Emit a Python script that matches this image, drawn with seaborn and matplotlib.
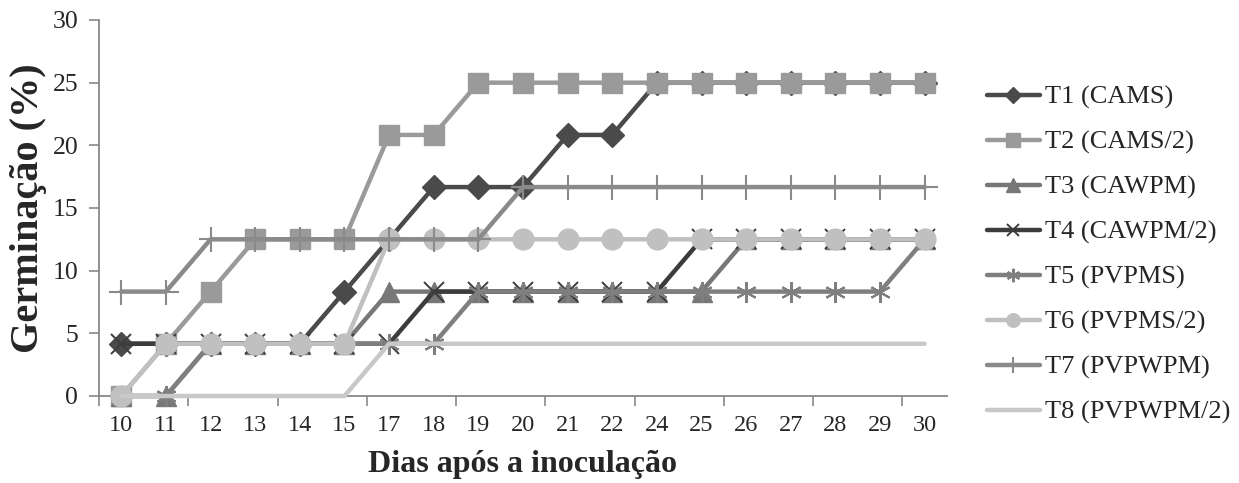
import pandas as pd
import matplotlib
matplotlib.use('Agg')
import matplotlib.pyplot as plt
import seaborn as sns

# Days after inoculation (category axis) and germination (%) per treatment
dias = ['10', '11', '12', '13', '14', '15', '17', '18', '19', '20',
        '21', '22', '24', '25', '26', '27', '28', '29', '30']

t1 = [4.17, 4.17, 4.17, 4.17, 4.17, 8.33, 12.5, 16.67, 16.67, 16.67,
      20.83, 20.83, 25, 25, 25, 25, 25, 25, 25]
t2 = [0, 4.17, 8.33, 12.5, 12.5, 12.5, 20.83, 20.83, 25, 25,
      25, 25, 25, 25, 25, 25, 25, 25, 25]
t3 = [0, 0, 4.17, 4.17, 4.17, 4.17, 8.33, 8.33, 8.33, 8.33,
      8.33, 8.33, 8.33, 8.33, 12.5, 12.5, 12.5, 12.5, 12.5]
t4 = [4.17, 4.17, 4.17, 4.17, 4.17, 4.17, 4.17, 8.33, 8.33, 8.33,
      8.33, 8.33, 8.33, 12.5, 12.5, 12.5, 12.5, 12.5, 12.5]
t5 = [0, 0, 4.17, 4.17, 4.17, 4.17, 4.17, 4.17, 8.33, 8.33,
      8.33, 8.33, 8.33, 8.33, 8.33, 8.33, 8.33, 8.33, 12.5]
t6 = [0, 4.17, 4.17, 4.17, 4.17, 4.17, 12.5, 12.5, 12.5, 12.5,
      12.5, 12.5, 12.5, 12.5, 12.5, 12.5, 12.5, 12.5, 12.5]
t7 = [8.33, 8.33, 12.5, 12.5, 12.5, 12.5, 12.5, 12.5, 12.5, 16.67,
      16.67, 16.67, 16.67, 16.67, 16.67, 16.67, 16.67, 16.67, 16.67]
t8 = [0, 0, 0, 0, 0, 0, 4.17, 4.17, 4.17, 4.17,
      4.17, 4.17, 4.17, 4.17, 4.17, 4.17, 4.17, 4.17, 4.17]

nomes = ['T1 (CAMS)', 'T2 (CAMS/2)', 'T3 (CAWPM)', 'T4 (CAWPM/2)',
         'T5 (PVPMS)', 'T6 (PVPMS/2)', 'T7 (PVPWPM)', 'T8 (PVPWPM/2)']
series = [t1, t2, t3, t4, t5, t6, t7, t8]

# style per series: colour, marker, marker size, edge width
estilos = [
    ('#4a4a4a', 'D', 12, 1),
    ('#9a9a9a', 's', 15, 1),
    ('#777777', '^', 15, 1),
    ('#3c3c3c', 'x', 14, 1.4),
    ('#7f7f7f', (6, 2, 0), 15, 1.5),
    ('#c0c0c0', 'o', 15, 1),
    ('#8a8a8a', '+', 18, 1.5),
    ('#c8c8c8', None, 0, 1),
]

sns.set_style('white')
plt.rcParams['font.family'] = ['Liberation Serif', 'DejaVu Serif']

fig = plt.figure(figsize=(12.39, 4.83), dpi=100)
ax = fig.add_axes([99 / 1239, 1 - 396 / 483, 848 / 1239, 376 / 483])

pos = list(range(len(dias)))
for i, (nome, vals) in enumerate(zip(nomes, series)):
    cor, mk, ms, mew = estilos[i]
    df = pd.DataFrame({'x': pos, 'y': vals})
    sns.lineplot(data=df, x='x', y='y', ax=ax, color=cor, linewidth=3.2,
                 marker=mk, markersize=ms, markeredgecolor=cor,
                 markeredgewidth=mew, label=nome, clip_on=False,
                 zorder=3 + i)

eixo = '#888888'
ax.set_xlim(-0.5, len(dias) - 0.5)
ax.set_ylim(0, 30)
ax.set_yticks(range(0, 31, 5))
ax.set_xticks(pos)
ax.set_xticklabels(dias)
ax.set_xticks([p - 0.5 for p in range(0, len(dias), 2)], minor=True)
ax.tick_params(axis='x', which='major', length=0, pad=14, labelsize=17.5)
ax.tick_params(axis='x', which='minor', length=7, width=1.2, color=eixo,
               direction='out', bottom=True)
ax.tick_params(axis='y', which='major', length=7, width=1.2, color=eixo,
               direction='out', left=True, labelsize=18.5, pad=8)
for s in ['top', 'right']:
    ax.spines[s].set_visible(False)
for s in ['left', 'bottom']:
    ax.spines[s].set_color(eixo)
    ax.spines[s].set_linewidth(1.3)

ax.set_xlabel('Dias após a inoculação', fontsize=23, fontweight='bold',
              labelpad=10)
ax.set_ylabel('Germinação (%)', fontsize=29, fontweight='bold', labelpad=4)

handles, labels = ax.get_legend_handles_labels()
ax.legend_.remove()
fig.legend(handles, labels, loc='center left',
           bbox_to_anchor=(987 / 1239, 1 - 255 / 483), frameon=False,
           fontsize=19, handlelength=2.0, handletextpad=0.2,
           labelspacing=0.8, markerscale=0.65, borderpad=0,
           borderaxespad=0)

fig.savefig('out.png', dpi=100)
